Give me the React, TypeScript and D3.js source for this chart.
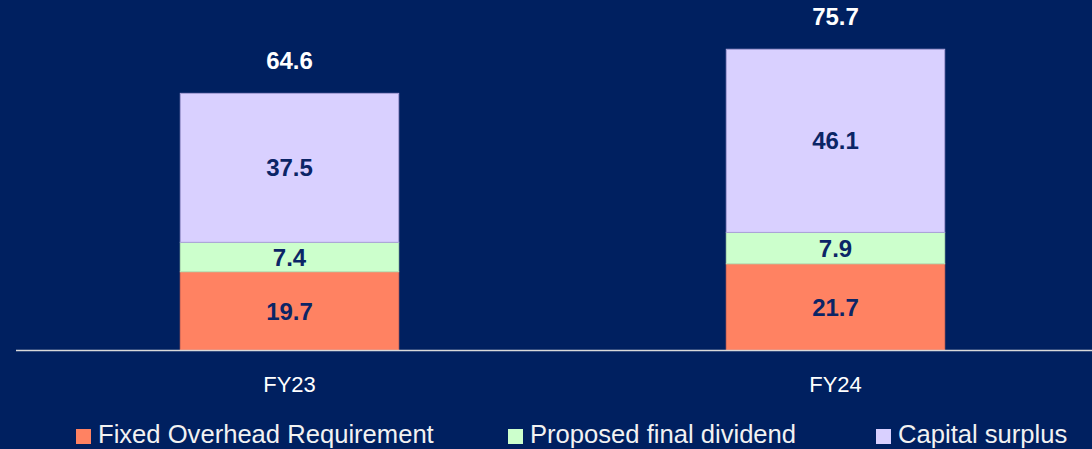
import React from "react";
import * as d3 from "d3";

const categories = ["FY23", "FY24"];
const seriesNames = ["Fixed Overhead Requirement", "Proposed final dividend", "Capital surplus"];
const fixedOverhead = [19.7, 21.7];
const finalDividend = [7.4, 7.9];
const capitalSurplus = [37.5, 46.1];
const totals = [64.6, 75.7];

const colors = ["#FF8262", "#CCFFCC", "#D9D0FF"];
const strokes = ["#E8735A", "#B8E6B8", "#A9A0D8"];

const W = 1092;
const H = 449;

export default function App() {
  const series = [fixedOverhead, finalDividend, capitalSurplus];
  const x = d3.scaleBand<string>().domain(categories).range([16.5, 1108.5]).paddingInner(0.6).paddingOuter(0.3);
  const y = d3.scaleLinear().domain([0, 88.1]).range([350, 0]);
  const table = categories.map((c, i) => ({ cat: c, s0: fixedOverhead[i], s1: finalDividend[i], s2: capitalSurplus[i] }));
  const stacked = d3.stack<any>().keys(["s0", "s1", "s2"])(table);
  const legendX = [76, 508, 876];
  const font = "'Liberation Sans', Arial, sans-serif";
  return (
    <svg width={W} height={H} style={{ position: "absolute", left: 0, top: 0, background: "#002060" }} fontFamily={font}>
      <rect x={0} y={0} width={W} height={H} fill="#002060" />
      {stacked.map((layer, si) =>
        layer.map((d, ci) => {
          const x0 = x(categories[ci])!;
          const bw = x.bandwidth();
          const yt = y(d[1]);
          const yb = y(d[0]);
          return (
            <g key={`${si}-${ci}`}>
              <rect x={x0} y={yt} width={bw} height={yb - yt} fill={colors[si]} stroke={strokes[si]} strokeWidth={1} />
              <text x={x0 + bw / 2} y={(yt + yb) / 2} dy="0.36em" textAnchor="middle" fontWeight="bold" fontSize={24} fill="#0B2566">
                {series[si][ci].toFixed(1)}
              </text>
            </g>
          );
        })
      )}
      {categories.map((c, i) => (
        <text key={c} x={x(c)! + x.bandwidth() / 2} y={y(totals[i]) - 24} textAnchor="middle" fontWeight="bold" fontSize={24} fill="#FFFFFF">
          {totals[i].toFixed(1)}
        </text>
      ))}
      <line x1={16} x2={W} y1={350.5} y2={350.5} stroke="#D9D9D9" strokeWidth={1.5} />
      {categories.map((c) => (
        <text key={c} x={x(c)! + x.bandwidth() / 2} y={392} textAnchor="middle" fontSize={22} fill="#FFFFFF">
          {c}
        </text>
      ))}
      {seriesNames.map((n, i) => (
        <g key={n}>
          <rect x={legendX[i]} y={429} width={15} height={15} fill={colors[i]} />
          <text x={legendX[i] + 22} y={443} fontSize={25.6} fill="#F2F2F2">
            {n}
          </text>
        </g>
      ))}
    </svg>
  );
}
